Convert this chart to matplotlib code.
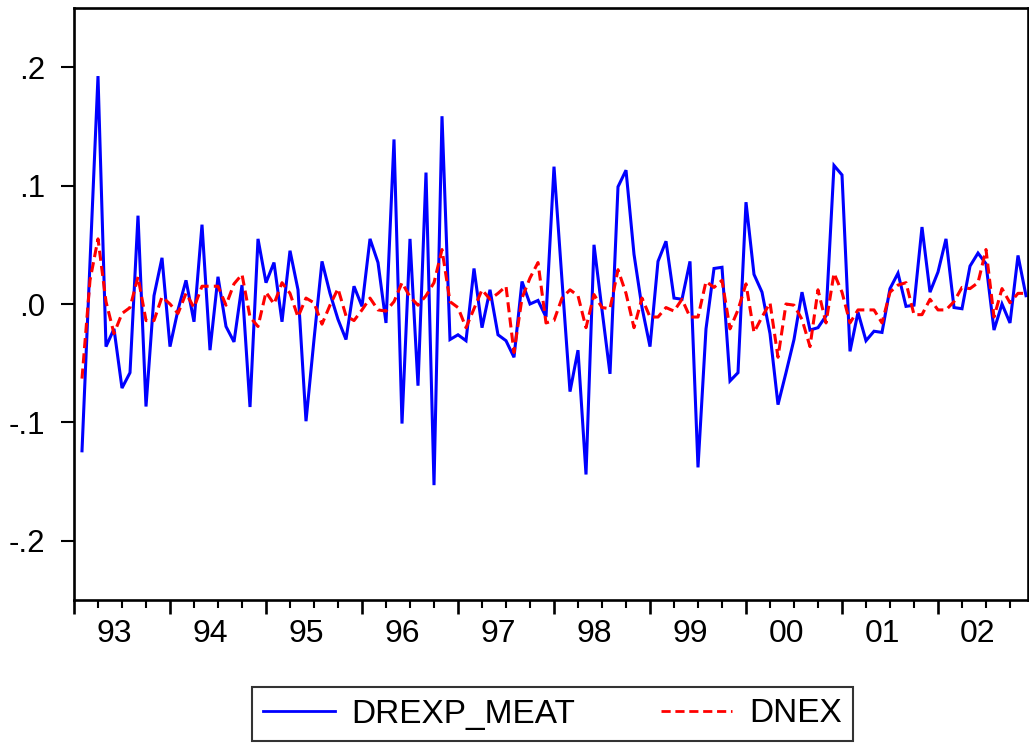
import matplotlib
matplotlib.use("Agg")
import matplotlib.pyplot as plt
from matplotlib.ticker import FixedLocator, NullFormatter

plt.rcParams['font.family'] = ['Liberation Sans', 'DejaVu Sans']

# Monthly observations 1993M02 .. 2002M12
drexp_meat = [-0.124, 0.035, 0.1925, -0.036, -0.021, -0.071, -0.058, 0.0746, -0.0866, 0.007,
              0.039, -0.036, -0.005, 0.020, -0.015, 0.067, -0.039, 0.023, -0.019, -0.032,
              0.016, -0.087, 0.055, 0.018, 0.035, -0.015, 0.045, 0.012, -0.099,
              -0.030, 0.036, 0.009, -0.013, -0.030, 0.015, -0.002, 0.055, 0.035, -0.016,
              0.139, -0.101, 0.055, -0.069, 0.111, -0.153, 0.1586, -0.030, -0.026, -0.031,
              0.030, -0.020, 0.012, -0.026, -0.031, -0.045, 0.019, 0.000, 0.003,
              -0.011, 0.116, 0.020, -0.074, -0.039, -0.144, 0.050, -0.005, -0.059, 0.099,
              0.113, 0.042, -0.003, -0.036, 0.036, 0.053, 0.005, 0.004, 0.036, -0.138,
              -0.021, 0.030, 0.031, -0.065, -0.058, 0.086, 0.025, 0.010, -0.025, -0.085,
              -0.058, -0.030, 0.010, -0.022, -0.020, -0.010, 0.117, 0.109, -0.040, -0.007,
              -0.031, -0.023, -0.024, 0.013, 0.026, -0.002, -0.001, 0.065, 0.010, 0.027,
              0.055, -0.003, -0.004, 0.032, 0.043, 0.034, -0.022, 0.000, -0.016, 0.041, 0.007]

dnex = [-0.063, 0.020, 0.055, 0.002, -0.025, -0.008, -0.003, 0.023, -0.014, -0.014,
        0.006, 0.000, -0.008, 0.009, -0.003, 0.015, 0.015, 0.015, -0.001, 0.017,
        0.025, -0.011, -0.019, 0.010, 0.000, 0.018, 0.009, -0.011, 0.005,
        0.001, -0.017, -0.001, 0.013, -0.010, -0.014, -0.005, 0.005, -0.005, -0.006,
        0.002, 0.018, 0.006, -0.001, 0.007, 0.018, 0.046, 0.002, -0.003, -0.020,
        -0.004, 0.012, 0.004, 0.009, 0.015, -0.041, 0.005, 0.022, 0.035,
        -0.016, -0.014, 0.005, 0.012, 0.007, -0.020, 0.008, -0.003, -0.004, 0.029,
        0.009, -0.020, 0.005, -0.011, -0.011, -0.003, -0.006, 0.004, -0.011, -0.011,
        0.019, 0.014, 0.020, -0.021, -0.005, 0.017, -0.024, -0.011, 0.001, -0.045,
        0.000, -0.001, -0.013, -0.036, 0.012, -0.016, 0.026, 0.010, -0.016, -0.005,
        -0.005, -0.005, -0.016, 0.010, 0.016, 0.018, -0.009, -0.009, 0.004, -0.005,
        -0.005, 0.002, 0.014, 0.013, 0.018, 0.046, -0.011, 0.013, 0.001, 0.009, 0.009]

year_labels = ["93", "94", "95", "96", "97", "98", "99", "00", "01", "02"]
y_ticks = [-0.2, -0.1, 0.0, 0.1, 0.2]
y_tick_labels = ["-.2", "-.1", ".0", ".1", ".2"]

# month index: 0 = start of 1993M01, observation i at month i+1
x = list(range(1, len(drexp_meat) + 1))

fig = plt.figure(figsize=(10.29, 7.47), dpi=100)
W, H = 1029, 747
ax = fig.add_axes([74 / W, 1 - 600 / H, (1028 - 74) / W, (600 - 8) / H])

l1, = ax.plot(x, drexp_meat, color='#0000ff', lw=2.2, solid_joinstyle='miter')
l2, = ax.plot(x, dnex, color='#ff0000', lw=2.2, linestyle=(0, (3.3, 1.7)))

ax.set_xlim(0, 119.25)
ax.set_ylim(-0.25, 0.25)

for s in ax.spines.values():
    s.set_linewidth(1.9)
    s.set_color('black')

ax.yaxis.set_major_locator(FixedLocator(y_ticks))
ax.set_yticklabels(y_tick_labels)
ax.tick_params(axis='y', direction='out', length=9.5, width=1.5, pad=11, labelsize=22.5)

ax.xaxis.set_major_locator(FixedLocator([12 * i for i in range(11)]))
ax.xaxis.set_minor_locator(FixedLocator([3 * i for i in range(41) if i % 4]))
ax.xaxis.set_major_formatter(NullFormatter())
ax.tick_params(axis='x', which='major', direction='out', length=10, width=1.9)
ax.tick_params(axis='x', which='minor', direction='out', length=6, width=1.5)

sec = ax.secondary_xaxis('bottom')
sec.set_xticks([5 + 12 * i for i in range(len(year_labels))])
sec.set_xticklabels(year_labels)
sec.tick_params(length=0, pad=14, labelsize=23)
sec.spines['bottom'].set_visible(False)

leg = fig.legend([l1, l2], ["DREXP_MEAT", "DNEX"], loc='center',
                 bbox_to_anchor=(552.5 / W, 1 - 714 / H), ncol=2, frameon=True,
                 fancybox=False, edgecolor='black', fontsize=24, handlelength=2.15,
                 columnspacing=2.55, handletextpad=0.5, borderpad=0.35)
leg.get_frame().set_linewidth(1.5)
for h in leg.get_lines():
    h.set_linewidth(2.0)

fig.savefig("out.png", dpi=100)
